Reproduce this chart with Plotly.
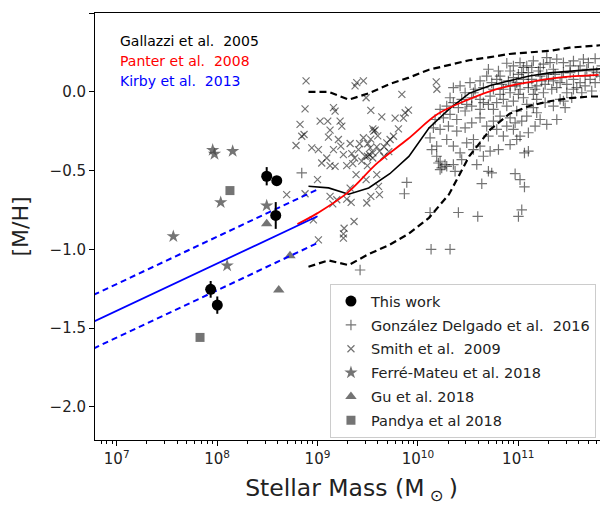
import plotly.graph_objects as go

# ---------------- data ----------------
# Gallazzi et al. 2005 (log M*, percentiles)
gal_logm = [8.91, 9.11, 9.31, 9.51, 9.72, 9.91, 10.11, 10.31, 10.51, 10.72, 10.91, 11.11, 11.31, 11.51, 11.72, 11.91]
gal_p50 = [-0.60, -0.61, -0.65, -0.61, -0.52, -0.41, -0.23, -0.11, -0.01, 0.04, 0.07, 0.10, 0.12, 0.13, 0.14, 0.15]
gal_p16 = [-1.11, -1.07, -1.10, -1.03, -0.97, -0.90, -0.80, -0.65, -0.41, -0.24, -0.14, -0.09, -0.06, -0.04, -0.03, -0.03]
gal_p84 = [0.00, 0.00, -0.05, -0.01, 0.05, 0.09, 0.14, 0.17, 0.20, 0.22, 0.24, 0.25, 0.26, 0.28, 0.29, 0.30]

# Panter et al. 2008
pan_logm = [8.80, 9.00, 9.30, 9.60, 9.90, 10.20, 10.50, 10.80, 11.10, 11.40, 11.80]
pan_mh = [-0.84, -0.77, -0.64, -0.45, -0.30, -0.14, -0.05, 0.02, 0.06, 0.09, 0.107]

# Kirby et al. 2013 (mean relation and +/- scatter)
kir_logm = [6.5, 9.0]
kir_mid = [-1.54, -0.79]
kir_hi = [-1.37, -0.62]
kir_lo = [-1.71, -0.96]

# This work
tw_logm = [8.494, 8.594, 8.584, 7.936, 8.002]
tw_mh = [-0.536, -0.564, -0.785, -1.254, -1.354]
tw_err = [0.058, 0.02, 0.085, 0.053, 0.055]

# Ferre-Mateu et al. 2018
fm_logm = [7.956, 7.974, 8.155, 8.036, 7.564, 8.494, 8.100]
fm_mh = [-0.370, -0.395, -0.377, -0.702, -0.918, -0.723, -1.103]

# Gu et al. 2018
gu_logm = [8.494, 8.726, 8.614]
gu_mh = [-0.838, -1.041, -1.258]

# Pandya et al 2018
pa_logm = [8.128, 7.830]
pa_mh = [-0.627, -1.559]

# Smith et al. 2009
sm_logm = [8.886, 9.391, 9.457, 9.374, 9.484, 9.840, 10.182, 10.189, 8.876, 9.159,
           9.175, 9.531, 9.640, 9.773, 9.873, 9.906, 9.856, 8.826, 8.866, 8.843,
           9.026, 9.102, 9.125, 9.109, 9.225, 9.242, 9.551, 9.574, 9.757, 9.723,
           9.806, 8.786, 8.943, 9.009, 9.042, 9.092, 9.159, 9.208, 9.232, 9.258,
           9.325, 9.341, 9.408, 9.457, 9.474, 9.517, 9.524, 9.551, 9.590, 9.617,
           9.664, 9.690, 9.175, 9.125, 9.291, 9.351, 9.384, 9.497, 9.497, 9.484,
           9.590, 9.607, 9.617, 9.531, 9.491, 9.325, 9.335, 9.192, 9.125, 9.152,
           9.291, 8.693, 8.876, 9.000, 8.959, 9.364, 9.265, 9.258, 9.258, 9.009,
           9.53, 9.56, 9.50, 9.42, 9.60, 9.37, 9.44, 9.55, 9.66, 9.71]
sm_mh = [0.069, 0.058, 0.069, 0.037, -0.038, -0.016, 0.063, 0.016, -0.108, -0.101,
         -0.123, -0.118, -0.159, -0.167, -0.133, -0.116, -0.167, -0.207, -0.271, -0.282,
         -0.186, -0.186, -0.243, -0.288, -0.186, -0.218, -0.235, -0.243, -0.282, -0.303,
         -0.235, -0.341, -0.356, -0.367, -0.452, -0.420, -0.367, -0.303, -0.345, -0.399,
         -0.328, -0.392, -0.367, -0.292, -0.409, -0.399, -0.356, -0.388, -0.350, -0.377,
         -0.350, -0.324, -0.473, -0.469, -0.469, -0.456, -0.526, -0.409, -0.469, -0.558,
         -0.526, -0.600, -0.653, -0.664, -0.706, -0.611, -0.702, -0.685, -0.664, -0.711,
         -0.681, -0.653, -0.647, -0.558, -0.813, -0.823, -0.866, -0.902, -0.929, -0.940,
         -0.30, -0.25, -0.33, -0.33, -0.28, -0.42, -0.44, -0.42, -0.41, -0.38]

# Gonzalez Delgado et al. 2016
gd_logm = [10.702, 10.885, 10.918, 11.017, 11.084, 11.150, 11.250, 11.283, 11.316, 11.383,
           11.449, 11.516, 11.648, 11.765, 11.864, 11.549, 11.615, 11.698, 11.217, 11.134,
           11.051, 10.951, 10.802, 10.685,
           11.349, 11.200, 11.100, 11.001, 10.951, 10.818, 10.735, 10.619, 10.519, 10.420,
           10.353, 10.470, 10.569, 10.652, 10.752, 10.835, 10.918, 10.984, 11.051, 11.134,
           11.217, 11.283, 11.366, 11.449, 11.516, 11.599, 11.682, 11.748, 11.831, 11.864,
           11.731, 11.632, 11.549, 11.483, 11.416, 11.349, 11.267, 11.183, 11.100, 11.017,
           10.918, 10.818, 10.719, 10.619, 10.536, 10.436, 10.353, 10.287, 10.221, 10.254,
           10.320, 10.387, 10.470, 10.536, 10.619, 10.702, 10.785, 10.851, 10.951, 11.051,
           11.150, 11.250, 11.333, 11.449, 11.466, 11.383, 11.283, 11.183, 11.084, 10.984,
           10.918, 10.818, 10.752, 10.685, 10.619, 10.536, 10.470, 10.387, 10.304, 10.221,
           10.154, 10.121, 10.187, 10.287, 10.353, 10.420, 10.486, 10.553, 10.619, 10.702,
           10.785, 10.851, 10.951, 11.017, 11.100, 11.167, 10.984, 10.918, 10.802, 10.719,
           10.652, 10.553, 10.436, 10.353, 10.287, 10.237, 10.204, 10.187, 10.138, 10.171,
           10.785, 10.851, 10.901, 10.968, 11.034, 11.100, 11.167, 11.233, 11.300, 11.383,
           11.433, 11.483, 11.549, 11.615, 11.665, 11.715, 11.781, 11.183, 11.267, 11.084,
           11.001, 10.885, 10.752, 10.652, 10.553, 10.486, 10.403, 10.320, 10.968, 11.034,
           10.885, 11.150, 11.217, 11.349, 11.416, 11.532, 11.582, 11.665, 11.765, 11.814,
           11.061, 11.100, 10.968, 11.017, 11.061, 11.034, 11.001, 10.221, 10.270, 10.221,
           10.370, 10.586, 10.702, 10.735, 10.636, 9.889, 9.865, 10.121, 10.403, 10.596,
           10.131, 10.320, 9.424, 8.843]
gd_mh = [0.143, 0.181, 0.132, 0.185, 0.164, 0.196, 0.175, 0.217, 0.185, 0.207,
         0.185, 0.164, 0.207, 0.211, 0.217, 0.196, 0.164, 0.185, 0.154, 0.154,
         0.154, 0.164, 0.132, 0.100,
         0.143, 0.132, 0.122, 0.111, 0.090, 0.100, 0.058, 0.069, 0.058, 0.037,
         0.026, -0.006, 0.016, 0.026, 0.016, 0.047, 0.037, 0.058, 0.079, 0.079,
         0.100, 0.111, 0.111, 0.122, 0.122, 0.132, 0.143, 0.132, 0.164, 0.005,
         0.005, -0.006, 0.016, 0.047, 0.058, 0.069, 0.047, 0.037, 0.026, 0.016,
         -0.006, -0.016, -0.027, -0.048, -0.038, -0.048, -0.069, -0.091, -0.112, -0.165,
         -0.144, -0.176, -0.122, -0.091, -0.112, -0.080, -0.069, -0.048, -0.059, -0.038,
         -0.016, -0.006, 0.016, -0.059, -0.101, -0.176, -0.207, -0.133, -0.154, -0.122,
         -0.165, -0.154, -0.186, -0.218, -0.165, -0.197, -0.229, -0.250, -0.218, -0.239,
         -0.229, -0.292, -0.345, -0.303, -0.345, -0.388, -0.324, -0.303, -0.345, -0.282,
         -0.239, -0.282, -0.239, -0.282, -0.260, -0.218, -0.303, -0.335, -0.367, -0.377,
         -0.409, -0.367, -0.430, -0.462, -0.473, -0.483, -0.452, -0.409, -0.367, -0.176,
         0.079, 0.016, 0.069, 0.037, 0.122, 0.058, 0.016, 0.069, 0.079, 0.026,
         0.090, -0.006, 0.079, 0.058, 0.100, 0.079, 0.122, -0.048, -0.069, -0.080,
         -0.016, -0.091, -0.112, -0.069, -0.006, -0.080, -0.101, -0.038, -0.197, -0.186,
         -0.218, -0.101, -0.176, -0.091, -0.048, -0.038, 0.026, 0.037, 0.058, 0.100,
         -0.388, -0.377, -0.520, -0.558, -0.604, -0.749, -0.791, -0.441, -0.462, -0.494,
         -0.505, -0.462, -0.505, -0.515, -0.583, -0.575, -0.647, -0.766, -0.766, -0.791,
         -1.000, -1.000, -1.131, -0.515]

x_tickvals = [1e7, 1e8, 1e9, 1e10, 1e11]
x_ticktext = ["10<sup>7</sup>", "10<sup>8</sup>", "10<sup>9</sup>", "10<sup>10</sup>", "10<sup>11</sup>"]
y_tickvals = [-2.0, -1.5, -1.0, -0.5, 0.0, 0.5]
y_ticktext = ["\u22122.0", "\u22121.5", "\u22121.0", "\u22120.5", "0.0", "0.5"]

# ---------------- figure ----------------
def lin(v):
    return [10 ** a for a in v]

FONT = "DejaVu Sans"
GRAY = "rgba(70,70,70,0.75)"
PTS = "rgba(0,0,0,0.55)"
fig = go.Figure()

fig.add_trace(go.Scatter(x=lin(sm_logm), y=sm_mh, mode="markers", name="Smith et al.\u00a0 2009",
                         marker=dict(symbol="x-thin", size=7, line=dict(width=1.2, color=PTS)),
                         legendgroup="c", legendrank=3))
fig.add_trace(go.Scatter(x=lin(gd_logm), y=gd_mh, mode="markers", name="González Delgado et al.\u00a0 2016",
                         marker=dict(symbol="cross-thin", size=7.5, line=dict(width=1.2, color=PTS)),
                         legendgroup="b", legendrank=2))
fig.add_trace(go.Scatter(x=lin(fm_logm), y=fm_mh, mode="markers", name="Ferré-Mateu et al. 2018",
                         marker=dict(symbol="star", size=10, color=GRAY),
                         legendgroup="d", legendrank=4))
fig.add_trace(go.Scatter(x=lin(gu_logm), y=gu_mh, mode="markers", name="Gu et al. 2018",
                         marker=dict(symbol="triangle-up", size=10, color=GRAY),
                         legendgroup="e", legendrank=5))
fig.add_trace(go.Scatter(x=lin(pa_logm), y=pa_mh, mode="markers", name="Pandya et al 2018",
                         marker=dict(symbol="square", size=9, color=GRAY),
                         legendgroup="f", legendrank=6))

# Gallazzi
fig.add_trace(go.Scatter(x=lin(gal_logm), y=gal_p50, mode="lines", line=dict(color="black", width=1.6),
                         showlegend=False))
for p in (gal_p16, gal_p84):
    fig.add_trace(go.Scatter(x=lin(gal_logm), y=p, mode="lines",
                             line=dict(color="black", width=2.2, dash="7px,4px"), showlegend=False))
# Panter
fig.add_trace(go.Scatter(x=lin(pan_logm), y=pan_mh, mode="lines", line=dict(color="#ff0000", width=1.8, shape="spline"),
                         showlegend=False))
# Kirby
fig.add_trace(go.Scatter(x=lin(kir_logm), y=kir_mid, mode="lines", line=dict(color="#0000ff", width=1.8),
                         showlegend=False))
for k in (kir_hi, kir_lo):
    fig.add_trace(go.Scatter(x=lin(kir_logm), y=k, mode="lines",
                             line=dict(color="#0000ff", width=2, dash="6px,4px"), showlegend=False))

# This work
fig.add_trace(go.Scatter(x=lin(tw_logm), y=tw_mh, mode="markers", name="This work",
                         marker=dict(symbol="circle", size=11, color="black"),
                         error_y=dict(type="data", array=tw_err, color="black", thickness=2, width=0),
                         legendgroup="a", legendrank=1))

fig.add_annotation(x=0.045, y=0.934, xref="paper", yref="paper", xanchor="left", yanchor="middle",
                   text="Gallazzi et al.\u00a0 2005", showarrow=False, font=dict(size=14, color="black", family=FONT))
fig.add_annotation(x=0.045, y=0.888, xref="paper", yref="paper", xanchor="left", yanchor="middle",
                   text="Panter et al.\u00a0 2008", showarrow=False, font=dict(size=14, color="#ff0000", family=FONT))
fig.add_annotation(x=0.045, y=0.841, xref="paper", yref="paper", xanchor="left", yanchor="middle",
                   text="Kirby et al.\u00a0 2013", showarrow=False, font=dict(size=14, color="#0000ff", family=FONT))

minor_vals = [m * 10 ** e for e in range(6, 12) for m in range(2, 10)]

# the page body adds an 8px margin, so the figure is 8px smaller than the window
fig.update_layout(
    width=600, height=498,
    margin=dict(l=87, r=0, t=5, b=66, autoexpand=False),
    paper_bgcolor="white", plot_bgcolor="white",
    font=dict(family=FONT, size=15, color="#222222"),
    showlegend=True,
    legend=dict(x=0.458, y=0.365, xanchor="left", yanchor="top", bgcolor="white",
                bordercolor="#cccccc", borderwidth=1, font=dict(size=14.5, color="#222222"),
                tracegroupgap=2, itemsizing="trace"),
    xaxis=dict(type="log", range=[6.784, 11.893], tickmode="array", tickvals=x_tickvals, ticktext=x_ticktext,
               ticks="outside", ticklen=5, tickwidth=1, tickcolor="black", showline=True, linecolor="black",
               linewidth=1, mirror=True, showgrid=False, zeroline=False, automargin=False,
               minor=dict(tickmode="array", tickvals=minor_vals, ticks="outside", ticklen=3, tickcolor="black", showgrid=False),
               title=dict(text="Stellar Mass (M<sub>\u00a0\u2299\u00a0</sub>)", font=dict(size=23.5), standoff=12)),
    yaxis=dict(range=[-2.21, 0.5], tickmode="array", tickvals=y_tickvals, ticktext=y_ticktext,
               ticks="outside", ticklen=5, tickwidth=1, tickcolor="black", showline=True, linecolor="black",
               linewidth=1, showgrid=False, zeroline=False, automargin=False,
               title=dict(text="[M/H]", font=dict(size=22), standoff=16)),
)

fig.write_html("out.html")
